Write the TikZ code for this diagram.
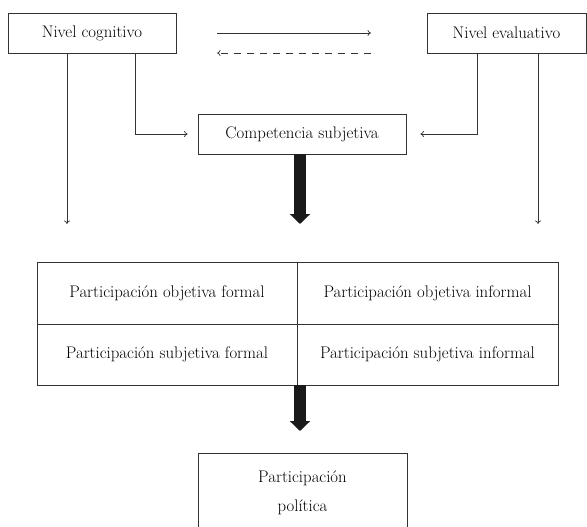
\documentclass[tikz,border=0pt]{standalone}
\usetikzlibrary{arrows.meta}
\definecolor{ln}{HTML}{333333}
\definecolor{thk}{HTML}{1A1A1A}
\begin{document}
\begin{tikzpicture}[x=1pt,y=-1pt,
  box/.style={draw=ln, line width=0.8pt, rectangle, inner sep=0pt, font=\fontsize{16.8}{20}\selectfont},
  thin/.style={draw=ln, line width=0.7pt, -{To[length=3.5pt,width=6pt]}},
  fat/.style={draw=thk, line width=12pt, -{Triangle[length=10pt,width=20pt]}, thk}]
\useasboundingbox (0,0) rectangle (587,527);
\clip (0,0) rectangle (587,527);
\node[box, minimum width=168, minimum height=40] (cog) at (92,33) {Nivel cognitivo};
\node[box, minimum width=159, minimum height=40] (eva) at (506.5,33) {Nivel evaluativo};
\node[box, minimum width=208, minimum height=40] (comp) at (302,134) {Competencia subjetiva};
\node[box, minimum width=260, minimum height=62] (c11) at (167,293) {Participación objetiva formal};
\node[box, minimum width=261, minimum height=62] (c12) at (427.5,293) {Participación objetiva informal};
\node[box, minimum width=260, minimum height=61] (c21) at (167,354.5) {Participación subjetiva formal};
\node[box, minimum width=261, minimum height=61] (c22) at (427.5,354.5) {Participación subjetiva informal};
\node[font=\fontsize{16.8}{29}\selectfont, align=center] (pol) at (302.5,492.5) {Participación\\política};
\draw[ln, line width=0.8pt] (198,560) -- (198,453) -- (407,453) -- (407,560);
% top arrows
\coordinate (a1) at (217,33);
\coordinate (a2) at (371,33);
\coordinate (b1) at (217,53);
\coordinate (b2) at (371,53);
\draw[thin] (a1) -- (a2);
\draw[thin, dash pattern=on 7pt off 6pt] (b2) -- (b1);
% side arrows
\coordinate (cl) at (67,224);
\coordinate (ck) at (135,0);
\coordinate (ek) at (477,0);
\coordinate (er) at (538,224);
\draw[thin] (cl |- cog.south) -- (cl);
\draw[thin] (er |- eva.south) -- (er);
\draw[thin, shorten >=10pt] (ck |- cog.south) |- (comp.west);
\draw[thin, shorten >=14pt] (ek |- eva.south) |- (comp.east);
% thick arrows
\coordinate (t1) at (300,224);
\coordinate (t2) at (300,431);
\draw[fat] (t1 |- comp.south) -- (t1);
\draw[fat] (t2 |- c21.south) -- (t2);
\end{tikzpicture}
\end{document}
